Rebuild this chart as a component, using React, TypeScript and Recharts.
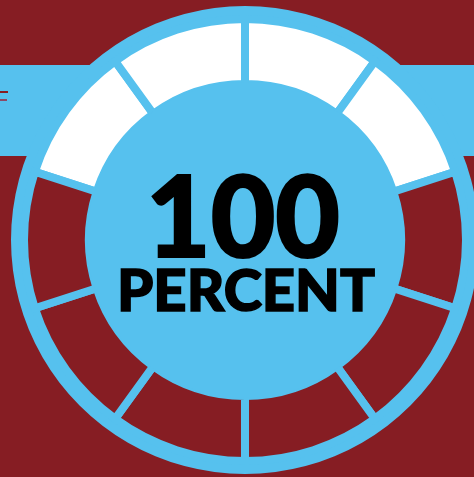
import { PieChart, Pie, Cell, Label } from 'recharts';

const RED = '#861d23';
const BLUE = '#56c1ee';
const WHITE = '#ffffff';

// ten equal steps round the dial, starting at the upper left
const segmentNames = ['1', '2', '3', '4', '5', '6', '7', '8', '9', '10'];
const segmentValues = [1, 1, 1, 1, 1, 1, 1, 1, 1, 1];
const segmentFilled = [true, true, true, true, false, false, false, false, false, false];

const bigNumber = '100';
const unitLabel = 'PERCENT';

const ringData = [{ name: 'ring', value: 1 }];
const coreData = [{ name: 'core', value: 1 }];

function CenterText({ viewBox }: any) {
  const cx = viewBox?.cx ?? 245;
  const cy = viewBox?.cy ?? 240;
  return (
    <g fontFamily="Lato, 'DejaVu Sans', sans-serif" fontWeight={900} fill="#000">
      <text
        x={cx - 2}
        y={cy + 17}
        textAnchor="middle"
        fontSize={112}
        stroke="#000"
        strokeWidth={2}
        textLength={194}
        lengthAdjust="spacingAndGlyphs"
      >
        {bigNumber}
      </text>
      <text
        x={cx + 1}
        y={cy + 71}
        textAnchor="middle"
        fontSize={58}
        stroke="#000"
        strokeWidth={1.5}
        textLength={258}
        lengthAdjust="spacingAndGlyphs"
      >
        {unitLabel}
      </text>
    </g>
  );
}

export default function App() {
  const data = segmentNames.map((name, i) => ({
    name,
    value: segmentValues[i],
    filled: segmentFilled[i],
  }));

  return (
    <div
      style={{
        position: 'fixed',
        left: 0,
        top: 0,
        width: 474,
        height: 477,
        background: RED,
        overflow: 'hidden',
      }}
    >
      <div
        style={{
          position: 'absolute',
          left: 0,
          top: 65,
          width: 474,
          height: 91,
          background: BLUE,
        }}
      />
      <div style={{ position: 'absolute', left: 0, top: 91, width: 8, height: 2, background: RED }} />
      <div style={{ position: 'absolute', left: 0, top: 99, width: 7, height: 2, background: '#8c4a66' }} />
      <div style={{ position: 'absolute', left: 0, top: 0 }}>
        <PieChart width={474} height={477} margin={{ top: 0, right: 0, bottom: 0, left: 0 }}>
          <Pie
            data={ringData}
            dataKey="value"
            cx={245}
            cy={240}
            innerRadius={0}
            outerRadius={234}
            stroke="none"
            fill={BLUE}
            isAnimationActive={false}
          />
          <Pie
            data={data}
            dataKey="value"
            cx={245}
            cy={240}
            innerRadius={156}
            outerRadius={221}
            startAngle={162}
            endAngle={-198}
            stroke={BLUE}
            strokeWidth={8}
            isAnimationActive={false}
          >
            {data.map((d) => (
              <Cell key={d.name} fill={d.filled ? WHITE : RED} />
            ))}
          </Pie>
          <Pie
            data={coreData}
            dataKey="value"
            cx={245}
            cy={240}
            innerRadius={0}
            outerRadius={158}
            stroke="none"
            fill={BLUE}
            isAnimationActive={false}
          >
            <Label position="center" content={CenterText} />
          </Pie>
        </PieChart>
      </div>
    </div>
  );
}
